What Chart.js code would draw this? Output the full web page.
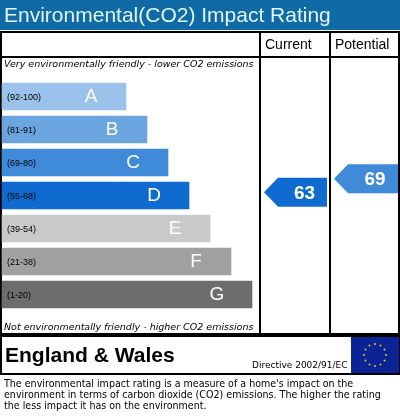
<!DOCTYPE html>
<html>
<head>
<meta charset="utf-8">
<script src="https://cdn.jsdelivr.net/npm/chart.js@4/dist/chart.umd.min.js"></script>
<style>
  body { margin: 0; background: #fff; }
  #wrap { width: 400px; height: 419px; }
</style>
</head>
<body>
<div id="wrap"><canvas id="chart"></canvas></div>
<script>
// bands, top (best) to bottom (worst)
const bandLetters = ['A', 'B', 'C', 'D', 'E', 'F', 'G'];
const bandRanges = ['(92-100)', '(81-91)', '(69-80)', '(55-68)', '(39-54)', '(21-38)', '(1-20)'];
const bandEnds = [126, 147, 168, 189, 210, 231, 252];
const bandColors = ['#9bc2ea', '#6ba5df', '#3f8bd9', '#0f6bd0', '#c9c9c9', '#a1a1a1', '#6d6d6d'];
const currentRating = 63;
const potentialRating = 69;

const ctx = document.getElementById('chart').getContext('2d');

const frame = {
    id: 'frame',
    beforeDraw(chart) {
        const c = chart.ctx;
        c.save();
        c.fillStyle = '#fff';
        c.fillRect(0, 0, 400, 419);
        // title bar
        c.fillStyle = '#0f6aa5';
        c.fillRect(0, 0, 400, 30);
        c.fillStyle = '#dff6f8';
        c.font = '21px Arial, "Liberation Sans"';
        c.textBaseline = 'alphabetic';
        c.fillText('Environmental(CO2) Impact Rating', 4, 22);
        // table
        c.strokeStyle = '#000';
        c.lineWidth = 2;
        c.strokeRect(1, 32, 398, 302);
        c.beginPath();
        c.moveTo(260, 32); c.lineTo(260, 334);
        c.moveTo(330, 32); c.lineTo(330, 334);
        c.moveTo(1, 57); c.lineTo(399, 57);
        c.stroke();
        c.fillStyle = '#000';
        c.font = '14px Arial, "Liberation Sans"';
        c.fillText('Current', 265, 49);
        c.fillText('Potential', 335, 49);
        c.font = 'italic 9.5px Verdana, "DejaVu Sans"';
        c.fillText('Very environmentally friendly - lower CO2 emissions', 4, 67);
        c.fillText('Not environmentally friendly - higher CO2 emissions', 4, 330);
        // footer box
        c.strokeRect(1, 336, 398, 38);
        c.font = 'bold 21px Arial, "Liberation Sans"';
        c.fillText('England & Wales', 5, 362);
        c.font = '9px Verdana, "DejaVu Sans"';
        c.fillText('Directive 2002/91/EC', 252, 368);
        // EU flag
        c.fillStyle = '#0b2394';
        c.fillRect(351, 337, 48, 36);
        c.fillStyle = '#ffe000';
        for (let i = 0; i < 12; i++) {
            const a = i * Math.PI / 6;
            c.fillRect(375 + Math.cos(a) * 11 - 0.8, 355 + Math.sin(a) * 11 - 0.8, 1.6, 1.6);
        }
        c.fillStyle = '#000';
        c.font = '10.6px Tahoma, "DejaVu Sans Condensed", "DejaVu Sans"';
        c.fillText("The environmental impact rating is a measure of a home's impact on the", 4, 387);
        c.fillText('environment in terms of carbon dioxide (CO2) emissions. The higher the rating', 4, 398);
        c.fillText('the less impact it has on the environment.', 4, 409);
        c.restore();
    },
    afterDatasetsDraw(chart) {
        const c = chart.ctx;
        const meta = chart.getDatasetMeta(0);
        c.save();
        meta.data.forEach((bar, i) => {
            c.fillStyle = '#000';
            c.font = '9px Arial, "Liberation Sans"';
            c.textBaseline = 'middle';
            c.textAlign = 'left';
            c.fillText(bandRanges[i], 7, bar.y + 1);
            c.fillStyle = '#fff';
            c.font = '19px Arial, "Liberation Sans"';
            c.textAlign = 'center';
            c.fillText(bandLetters[i], bar.x - 35, bar.y);
        });
        const yr = chart.scales.yr;
        const arrow = (x0, x1, rating, color) => {
            const y = yr.getPixelForValue(rating);
            const h = 14.5;
            c.fillStyle = color;
            c.beginPath();
            c.moveTo(x0, y);
            c.lineTo(x0 + 14, y - h);
            c.lineTo(x1, y - h);
            c.lineTo(x1, y + h);
            c.lineTo(x0 + 14, y + h);
            c.closePath();
            c.fill();
            c.fillStyle = '#fff';
            c.font = 'bold 19px Arial, "Liberation Sans"';
            c.textAlign = 'center';
            c.textBaseline = 'middle';
            c.fillText(String(rating), (x0 + 14 + x1) / 2 + 2, y + 1);
        };
        arrow(264, 327, currentRating, '#0f6bd0');
        arrow(334, 398, potentialRating, '#3f8bd9');
        c.restore();
    }
};

new Chart(ctx, {
    type: 'bar',
    data: {
        labels: bandLetters,
        datasets: [{
            data: bandEnds.map(e => [2, e]),
            backgroundColor: bandColors,
            borderWidth: 0,
            barThickness: 27
        }]
    },
    options: {
        indexAxis: 'y',
        responsive: true,
        maintainAspectRatio: false,
        animation: false,
        layout: { padding: { top: 80, bottom: 108, left: 0, right: 0 } },
        plugins: { legend: { display: false }, tooltip: { enabled: false } },
        scales: {
            x: { type: 'linear', min: 0, max: 400, display: false },
            y: { display: false, grid: { display: false } },
            yr: { type: 'linear', min: 15.4, max: 107.8, display: false }
        }
    },
    plugins: [frame]
});
</script>
</body>
</html>
